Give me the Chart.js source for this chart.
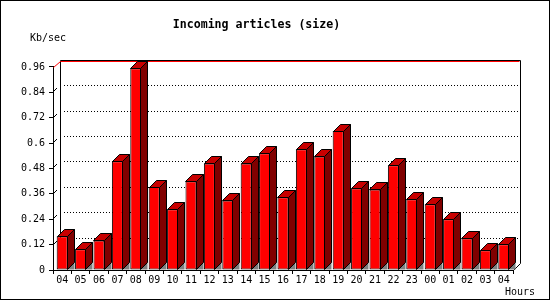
<!doctype html>
<html lang="en">
  <head>
    <meta charset="UTF-8" />
    <title>Incoming articles (size)</title>
    <script src="https://cdn.jsdelivr.net/npm/chart.js"></script>
    <style>
      body {
        margin: 0;
        background: #fff;
      }
      .chart-box {
        width: 550px;
        height: 300px;
      }
    </style>
  </head>
  <body>
    <div class="chart-box"><canvas id="sizeChart"></canvas></div>
    <script>
      // data
      const hours = ['04', '05', '06', '07', '08', '09', '10', '11', '12', '13', '14', '15', '16',
        '17', '18', '19', '20', '21', '22', '23', '00', '01', '02', '03', '04'];
      const kbPerSec = [0.159, 0.098, 0.140, 0.514, 0.954, 0.392, 0.287, 0.419, 0.504, 0.329, 0.504,
        0.552, 0.344, 0.571, 0.537, 0.657, 0.386, 0.381, 0.495, 0.334, 0.311, 0.240, 0.150, 0.093, 0.122];
      const yMax = 0.96;
      const yStep = 0.12;

      const DEPTH = 7;
      const monoFont = '"DejaVu Sans Mono", monospace';

      // back wall, dotted grid and 3d faces of the bars
      const threeD = {
        id: 'threeD',
        beforeDatasetsDraw(chart) {
          const { ctx, chartArea: a, scales } = chart;
          ctx.save();
          ctx.lineWidth = 1;

          // dotted grid on the back wall
          ctx.strokeStyle = '#000';
          ctx.setLineDash([1, 2]);
          scales.y.ticks.forEach(t => {
            if (t.value <= 0 || t.value >= yMax - 1e-9) return;
            const y = Math.round(scales.y.getPixelForValue(t.value)) - DEPTH + 0.5;
            ctx.beginPath();
            ctx.moveTo(a.left + DEPTH + 4, y);
            ctx.lineTo(a.right + DEPTH, y);
            ctx.stroke();
          });
          ctx.setLineDash([]);

          // small slanted marks at the front axis
          scales.y.ticks.forEach(t => {
            if (t.value <= 0 || t.value >= yMax - 1e-9) return;
            const y = Math.round(scales.y.getPixelForValue(t.value));
            ctx.beginPath();
            ctx.moveTo(a.left + 1, y - 1);
            ctx.lineTo(a.left + 4, y - 4);
            ctx.stroke();
          });

          const L = Math.round(a.left) + 0.5;
          const R = Math.round(a.right) + 0.5;
          const T = Math.round(a.top) + 0.5;
          const B = Math.round(a.bottom) + 0.5;

          // wall edges
          ctx.strokeStyle = '#000';
          ctx.beginPath();
          ctx.moveTo(L + DEPTH, B - DEPTH);
          ctx.lineTo(L + DEPTH, T - DEPTH);
          ctx.lineTo(R + DEPTH, T - DEPTH);
          ctx.lineTo(R + DEPTH, B - DEPTH);
          ctx.lineTo(R, B);
          ctx.stroke();

          // red top edge
          ctx.strokeStyle = '#ff0000';
          ctx.beginPath();
          ctx.moveTo(L, T);
          ctx.lineTo(L + DEPTH, T - DEPTH + 1);
          ctx.lineTo(R + DEPTH - 1, T - DEPTH + 1);
          ctx.stroke();
          ctx.restore();
        },
        afterDatasetsDraw(chart) {
          const { ctx } = chart;
          const bars = chart.getDatasetMeta(0).data;
          ctx.save();
          ctx.lineWidth = 1;
          ctx.strokeStyle = '#000';
          bars.forEach(bar => {
            const l = Math.round(bar.x - bar.width / 2) + 0.5;
            const r = Math.round(bar.x + bar.width / 2) - 0.5;
            const t = Math.round(bar.y) + 0.5;
            const b = Math.round(bar.base) - 0.5;

            // floor shadow
            ctx.fillStyle = '#808080';
            ctx.beginPath();
            ctx.moveTo(r, b);
            ctx.lineTo(r + DEPTH, b - DEPTH);
            ctx.lineTo(r + DEPTH, b);
            ctx.closePath();
            ctx.fill();

            // side
            ctx.fillStyle = '#800000';
            ctx.beginPath();
            ctx.moveTo(r, t);
            ctx.lineTo(r + DEPTH, t - DEPTH);
            ctx.lineTo(r + DEPTH, b - DEPTH);
            ctx.lineTo(r, b);
            ctx.closePath();
            ctx.fill();
            ctx.stroke();

            // top
            ctx.fillStyle = '#c80000';
            ctx.beginPath();
            ctx.moveTo(l, t);
            ctx.lineTo(l + DEPTH, t - DEPTH);
            ctx.lineTo(r + DEPTH, t - DEPTH);
            ctx.lineTo(r, t);
            ctx.closePath();
            ctx.fill();
            ctx.stroke();
          });
          ctx.restore();
        },
        afterDraw(chart) {
          const { ctx } = chart;
          ctx.save();
          ctx.fillStyle = '#000';
          ctx.font = '10px ' + monoFont;
          ctx.textBaseline = 'middle';
          ctx.textAlign = 'left';
          ctx.fillText('Kb/sec', 30, 38);
          ctx.fillText('Hours', 505, 292);
          ctx.strokeStyle = '#000';
          ctx.lineWidth = 1;
          ctx.strokeRect(0.5, 0.5, 549, 299);
          ctx.restore();
        },
      };

      new Chart(document.getElementById('sizeChart'), {
        type: 'bar',
        data: {
          labels: hours,
          datasets: [{
            data: kbPerSec,
            backgroundColor: '#ff0000',
            borderColor: '#000',
            borderWidth: 1,
            borderSkipped: false,
            barPercentage: 0.6,
            categoryPercentage: 1.0,
          }],
        },
        options: {
          responsive: true,
          maintainAspectRatio: false,
          animation: false,
          layout: { padding: { left: 0, right: 37, bottom: 0 } },
          plugins: {
            legend: { display: false },
            tooltip: { enabled: false },
            title: {
              display: true,
              text: 'Incoming articles (size)',
              color: '#000',
              font: { family: monoFont, size: 11.6, weight: 'bold' },
              padding: { top: 18, bottom: 35 },
            },
          },
          scales: {
            x: {
              offset: true,
              grid: { display: true, offset: true, drawOnChartArea: false, color: '#000', tickLength: 4 },
              border: { display: true, color: '#000' },
              ticks: {
                color: '#000',
                font: { family: monoFont, size: 10 },
                padding: 0,
                maxRotation: 0,
                autoSkip: false,
              },
              afterFit: s => { s.height = 30; },
            },
            y: {
              min: 0,
              max: yMax,
              grid: { drawOnChartArea: false, color: '#000', tickLength: 4 },
              border: { display: true, color: '#000' },
              ticks: {
                stepSize: yStep,
                color: '#000',
                padding: 4,
                font: { family: monoFont, size: 10 },
                callback: v => String(+v.toFixed(2)),
              },
              afterFit: s => { s.width = 53; },
            },
          },
        },
        plugins: [threeD],
      });
    </script>
  </body>
</html>
